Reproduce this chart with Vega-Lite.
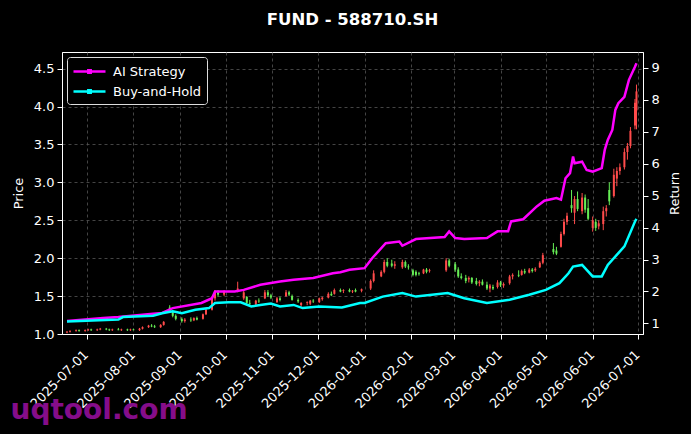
{
  "$schema": "https://vega.github.io/schema/vega-lite/v6.json",
  "width": 581,
  "height": 282,
  "autosize": {"type": "none"},
  "padding": {"left": 62, "top": 52, "right": 48, "bottom": 100},
  "background": "#000000",
  "title": {"text": "FUND - 588710.SH", "color": "#ffffff", "fontSize": 16.5, "fontWeight": "bold", "font": "DejaVu Sans", "offset": 24},
  "datasets": {
    "candles": [
      {"d":"2025-06-18","o":1.02,"h":1.04,"l":1.01,"c":1.03},
      {"d":"2025-06-20","o":1.03,"h":1.05,"l":1.02,"c":1.04},
      {"d":"2025-06-24","o":1.04,"h":1.06,"l":1.03,"c":1.05},
      {"d":"2025-06-26","o":1.05,"h":1.06,"l":1.03,"c":1.04},
      {"d":"2025-06-30","o":1.04,"h":1.06,"l":1.03,"c":1.05},
      {"d":"2025-07-02","o":1.05,"h":1.07,"l":1.04,"c":1.06},
      {"d":"2025-07-04","o":1.06,"h":1.07,"l":1.04,"c":1.05},
      {"d":"2025-07-08","o":1.05,"h":1.07,"l":1.04,"c":1.06},
      {"d":"2025-07-10","o":1.06,"h":1.08,"l":1.05,"c":1.07},
      {"d":"2025-07-14","o":1.07,"h":1.08,"l":1.05,"c":1.06},
      {"d":"2025-07-16","o":1.06,"h":1.07,"l":1.04,"c":1.05},
      {"d":"2025-07-18","o":1.05,"h":1.07,"l":1.04,"c":1.06},
      {"d":"2025-07-22","o":1.06,"h":1.08,"l":1.05,"c":1.05},
      {"d":"2025-07-24","o":1.05,"h":1.07,"l":1.04,"c":1.06},
      {"d":"2025-07-28","o":1.06,"h":1.07,"l":1.04,"c":1.05},
      {"d":"2025-07-30","o":1.05,"h":1.07,"l":1.04,"c":1.06},
      {"d":"2025-08-01","o":1.06,"h":1.07,"l":1.05,"c":1.05},
      {"d":"2025-08-05","o":1.05,"h":1.08,"l":1.04,"c":1.07},
      {"d":"2025-08-07","o":1.07,"h":1.10,"l":1.06,"c":1.09},
      {"d":"2025-08-11","o":1.09,"h":1.12,"l":1.08,"c":1.11},
      {"d":"2025-08-13","o":1.11,"h":1.13,"l":1.09,"c":1.10},
      {"d":"2025-08-15","o":1.10,"h":1.12,"l":1.08,"c":1.09},
      {"d":"2025-08-19","o":1.09,"h":1.13,"l":1.08,"c":1.12},
      {"d":"2025-08-21","o":1.12,"h":1.17,"l":1.11,"c":1.16},
      {"d":"2025-08-25","o":1.35,"h":1.38,"l":1.28,"c":1.30},
      {"d":"2025-08-27","o":1.29,"h":1.30,"l":1.22,"c":1.24},
      {"d":"2025-08-29","o":1.24,"h":1.26,"l":1.18,"c":1.20},
      {"d":"2025-09-02","o":1.20,"h":1.22,"l":1.15,"c":1.17},
      {"d":"2025-09-04","o":1.17,"h":1.21,"l":1.15,"c":1.19},
      {"d":"2025-09-08","o":1.19,"h":1.22,"l":1.16,"c":1.18},
      {"d":"2025-09-10","o":1.18,"h":1.22,"l":1.17,"c":1.21},
      {"d":"2025-09-12","o":1.21,"h":1.23,"l":1.18,"c":1.19},
      {"d":"2025-09-16","o":1.20,"h":1.27,"l":1.19,"c":1.26},
      {"d":"2025-09-18","o":1.26,"h":1.34,"l":1.25,"c":1.32},
      {"d":"2025-09-22","o":1.32,"h":1.50,"l":1.31,"c":1.47},
      {"d":"2025-09-24","o":1.47,"h":1.58,"l":1.44,"c":1.55},
      {"d":"2025-09-26","o":1.55,"h":1.58,"l":1.49,"c":1.52},
      {"d":"2025-09-30","o":1.52,"h":1.58,"l":1.50,"c":1.56},
      {"d":"2025-10-09","o":1.56,"h":1.69,"l":1.55,"c":1.60},
      {"d":"2025-10-13","o":1.47,"h":1.58,"l":1.45,"c":1.55},
      {"d":"2025-10-15","o":1.49,"h":1.50,"l":1.38,"c":1.41},
      {"d":"2025-10-17","o":1.41,"h":1.45,"l":1.38,"c":1.40},
      {"d":"2025-10-21","o":1.39,"h":1.45,"l":1.38,"c":1.44},
      {"d":"2025-10-23","o":1.44,"h":1.47,"l":1.41,"c":1.43},
      {"d":"2025-10-27","o":1.47,"h":1.58,"l":1.46,"c":1.55},
      {"d":"2025-10-29","o":1.55,"h":1.58,"l":1.49,"c":1.51},
      {"d":"2025-10-31","o":1.51,"h":1.53,"l":1.46,"c":1.48},
      {"d":"2025-11-04","o":1.42,"h":1.49,"l":1.41,"c":1.47},
      {"d":"2025-11-06","o":1.47,"h":1.49,"l":1.43,"c":1.45},
      {"d":"2025-11-10","o":1.50,"h":1.58,"l":1.49,"c":1.55},
      {"d":"2025-11-12","o":1.55,"h":1.57,"l":1.50,"c":1.52},
      {"d":"2025-11-14","o":1.50,"h":1.52,"l":1.44,"c":1.45},
      {"d":"2025-11-18","o":1.45,"h":1.47,"l":1.41,"c":1.43},
      {"d":"2025-11-20","o":1.38,"h":1.42,"l":1.36,"c":1.41},
      {"d":"2025-11-24","o":1.41,"h":1.43,"l":1.38,"c":1.42},
      {"d":"2025-11-26","o":1.40,"h":1.45,"l":1.38,"c":1.44},
      {"d":"2025-11-28","o":1.44,"h":1.46,"l":1.41,"c":1.43},
      {"d":"2025-12-02","o":1.42,"h":1.48,"l":1.41,"c":1.47},
      {"d":"2025-12-04","o":1.46,"h":1.49,"l":1.44,"c":1.48},
      {"d":"2025-12-08","o":1.48,"h":1.55,"l":1.47,"c":1.53},
      {"d":"2025-12-10","o":1.53,"h":1.56,"l":1.50,"c":1.51},
      {"d":"2025-12-12","o":1.53,"h":1.60,"l":1.52,"c":1.58},
      {"d":"2025-12-16","o":1.58,"h":1.60,"l":1.55,"c":1.56},
      {"d":"2025-12-18","o":1.57,"h":1.59,"l":1.54,"c":1.58},
      {"d":"2025-12-22","o":1.58,"h":1.60,"l":1.55,"c":1.56},
      {"d":"2025-12-24","o":1.56,"h":1.58,"l":1.54,"c":1.57},
      {"d":"2025-12-26","o":1.58,"h":1.60,"l":1.55,"c":1.56},
      {"d":"2025-12-30","o":1.57,"h":1.60,"l":1.55,"c":1.59},
      {"d":"2026-01-05","o":1.60,"h":1.72,"l":1.58,"c":1.70},
      {"d":"2026-01-07","o":1.70,"h":1.84,"l":1.68,"c":1.80},
      {"d":"2026-01-12","o":1.76,"h":1.84,"l":1.75,"c":1.82},
      {"d":"2026-01-14","o":1.82,"h":1.98,"l":1.80,"c":1.95},
      {"d":"2026-01-16","o":1.95,"h":2.00,"l":1.88,"c":1.90},
      {"d":"2026-01-19","o":1.93,"h":1.98,"l":1.88,"c":1.90},
      {"d":"2026-01-21","o":1.90,"h":1.96,"l":1.86,"c":1.92},
      {"d":"2026-01-26","o":1.88,"h":1.98,"l":1.86,"c":1.95},
      {"d":"2026-01-28","o":1.95,"h":1.97,"l":1.87,"c":1.89},
      {"d":"2026-01-30","o":1.89,"h":1.92,"l":1.85,"c":1.88},
      {"d":"2026-02-02","o":1.84,"h":1.86,"l":1.76,"c":1.78},
      {"d":"2026-02-04","o":1.82,"h":1.84,"l":1.76,"c":1.78},
      {"d":"2026-02-06","o":1.80,"h":1.82,"l":1.77,"c":1.79},
      {"d":"2026-02-09","o":1.80,"h":1.86,"l":1.79,"c":1.85},
      {"d":"2026-02-11","o":1.85,"h":1.87,"l":1.80,"c":1.82},
      {"d":"2026-02-13","o":1.83,"h":1.86,"l":1.81,"c":1.84},
      {"d":"2026-02-24","o":1.84,"h":2.00,"l":1.82,"c":1.97},
      {"d":"2026-02-26","o":1.97,"h":1.99,"l":1.88,"c":1.90},
      {"d":"2026-03-02","o":1.92,"h":1.95,"l":1.82,"c":1.85},
      {"d":"2026-03-04","o":1.85,"h":1.88,"l":1.74,"c":1.76},
      {"d":"2026-03-06","o":1.76,"h":1.80,"l":1.72,"c":1.74},
      {"d":"2026-03-09","o":1.74,"h":1.78,"l":1.67,"c":1.70},
      {"d":"2026-03-11","o":1.72,"h":1.76,"l":1.68,"c":1.74},
      {"d":"2026-03-13","o":1.74,"h":1.75,"l":1.66,"c":1.68},
      {"d":"2026-03-16","o":1.70,"h":1.74,"l":1.64,"c":1.66},
      {"d":"2026-03-18","o":1.67,"h":1.71,"l":1.63,"c":1.69},
      {"d":"2026-03-20","o":1.69,"h":1.72,"l":1.64,"c":1.65},
      {"d":"2026-03-23","o":1.65,"h":1.69,"l":1.58,"c":1.60},
      {"d":"2026-03-25","o":1.60,"h":1.66,"l":1.55,"c":1.64},
      {"d":"2026-03-27","o":1.62,"h":1.65,"l":1.58,"c":1.60},
      {"d":"2026-03-30","o":1.62,"h":1.71,"l":1.60,"c":1.68},
      {"d":"2026-04-01","o":1.68,"h":1.70,"l":1.62,"c":1.64},
      {"d":"2026-04-03","o":1.64,"h":1.68,"l":1.61,"c":1.66},
      {"d":"2026-04-07","o":1.67,"h":1.78,"l":1.65,"c":1.76},
      {"d":"2026-04-09","o":1.76,"h":1.80,"l":1.72,"c":1.78},
      {"d":"2026-04-13","o":1.78,"h":1.84,"l":1.75,"c":1.77},
      {"d":"2026-04-15","o":1.78,"h":1.85,"l":1.77,"c":1.83},
      {"d":"2026-04-17","o":1.83,"h":1.86,"l":1.79,"c":1.81},
      {"d":"2026-04-20","o":1.81,"h":1.87,"l":1.80,"c":1.85},
      {"d":"2026-04-22","o":1.85,"h":1.87,"l":1.81,"c":1.83},
      {"d":"2026-04-24","o":1.84,"h":1.88,"l":1.82,"c":1.86},
      {"d":"2026-04-27","o":1.88,"h":1.96,"l":1.87,"c":1.94},
      {"d":"2026-04-29","o":1.94,"h":2.07,"l":1.92,"c":2.04},
      {"d":"2026-05-06","o":2.12,"h":2.20,"l":2.05,"c":2.08},
      {"d":"2026-05-08","o":2.10,"h":2.15,"l":2.04,"c":2.06},
      {"d":"2026-05-11","o":2.15,"h":2.35,"l":2.14,"c":2.32},
      {"d":"2026-05-13","o":2.32,"h":2.52,"l":2.30,"c":2.48},
      {"d":"2026-05-15","o":2.48,"h":2.60,"l":2.44,"c":2.56},
      {"d":"2026-05-18","o":2.70,"h":2.90,"l":2.60,"c":2.66},
      {"d":"2026-05-20","o":2.60,"h":2.82,"l":2.45,"c":2.78},
      {"d":"2026-05-22","o":2.78,"h":2.88,"l":2.62,"c":2.65},
      {"d":"2026-05-25","o":2.62,"h":2.86,"l":2.58,"c":2.80},
      {"d":"2026-05-27","o":2.80,"h":2.84,"l":2.60,"c":2.64},
      {"d":"2026-05-29","o":2.66,"h":2.78,"l":2.50,"c":2.52},
      {"d":"2026-06-01","o":2.40,"h":2.55,"l":2.35,"c":2.50},
      {"d":"2026-06-03","o":2.48,"h":2.52,"l":2.36,"c":2.40},
      {"d":"2026-06-05","o":2.42,"h":2.50,"l":2.38,"c":2.46},
      {"d":"2026-06-08","o":2.45,"h":2.68,"l":2.37,"c":2.62},
      {"d":"2026-06-10","o":2.62,"h":2.70,"l":2.55,"c":2.66},
      {"d":"2026-06-12","o":2.90,"h":3.00,"l":2.70,"c":2.75},
      {"d":"2026-06-15","o":2.82,"h":3.18,"l":2.80,"c":3.10},
      {"d":"2026-06-17","o":3.05,"h":3.20,"l":2.95,"c":3.15},
      {"d":"2026-06-19","o":3.15,"h":3.25,"l":3.10,"c":3.20},
      {"d":"2026-06-22","o":3.20,"h":3.45,"l":3.17,"c":3.40},
      {"d":"2026-06-24","o":3.40,"h":3.52,"l":3.30,"c":3.48},
      {"d":"2026-06-26","o":3.48,"h":3.73,"l":3.45,"c":3.68},
      {"d":"2026-06-29","o":3.75,"h":4.10,"l":3.70,"c":4.05},
      {"d":"2026-06-30","o":3.95,"h":4.29,"l":3.70,"c":4.20}
    ],
    "lines": [
      {"d":"2025-06-18","s":"AI Strategy","v":1.08},
      {"d":"2025-07-12","s":"AI Strategy","v":1.17},
      {"d":"2025-07-22","s":"AI Strategy","v":1.2},
      {"d":"2025-08-14","s":"AI Strategy","v":1.30},
      {"d":"2025-08-20","s":"AI Strategy","v":1.33},
      {"d":"2025-08-27","s":"AI Strategy","v":1.48},
      {"d":"2025-09-15","s":"AI Strategy","v":1.64},
      {"d":"2025-09-22","s":"AI Strategy","v":1.79},
      {"d":"2025-09-24","s":"AI Strategy","v":2.0},
      {"d":"2025-10-07","s":"AI Strategy","v":2.0},
      {"d":"2025-10-13","s":"AI Strategy","v":2.05},
      {"d":"2025-10-24","s":"AI Strategy","v":2.21},
      {"d":"2025-11-06","s":"AI Strategy","v":2.31},
      {"d":"2025-11-15","s":"AI Strategy","v":2.37},
      {"d":"2025-11-28","s":"AI Strategy","v":2.42},
      {"d":"2025-12-11","s":"AI Strategy","v":2.57},
      {"d":"2025-12-16","s":"AI Strategy","v":2.60},
      {"d":"2025-12-22","s":"AI Strategy","v":2.68},
      {"d":"2026-01-01","s":"AI Strategy","v":2.73},
      {"d":"2026-01-06","s":"AI Strategy","v":3.04},
      {"d":"2026-01-15","s":"AI Strategy","v":3.51},
      {"d":"2026-01-24","s":"AI Strategy","v":3.56},
      {"d":"2026-01-26","s":"AI Strategy","v":3.43},
      {"d":"2026-02-04","s":"AI Strategy","v":3.64},
      {"d":"2026-02-23","s":"AI Strategy","v":3.70},
      {"d":"2026-02-26","s":"AI Strategy","v":3.88},
      {"d":"2026-03-02","s":"AI Strategy","v":3.67},
      {"d":"2026-03-08","s":"AI Strategy","v":3.64},
      {"d":"2026-03-23","s":"AI Strategy","v":3.67},
      {"d":"2026-03-30","s":"AI Strategy","v":3.88},
      {"d":"2026-04-06","s":"AI Strategy","v":3.88},
      {"d":"2026-04-08","s":"AI Strategy","v":4.19},
      {"d":"2026-04-16","s":"AI Strategy","v":4.26},
      {"d":"2026-04-25","s":"AI Strategy","v":4.66},
      {"d":"2026-04-30","s":"AI Strategy","v":4.84},
      {"d":"2026-05-08","s":"AI Strategy","v":4.92},
      {"d":"2026-05-11","s":"AI Strategy","v":4.87},
      {"d":"2026-05-14","s":"AI Strategy","v":5.54},
      {"d":"2026-05-17","s":"AI Strategy","v":5.70},
      {"d":"2026-05-19","s":"AI Strategy","v":6.22},
      {"d":"2026-05-20","s":"AI Strategy","v":6.01},
      {"d":"2026-05-25","s":"AI Strategy","v":6.06},
      {"d":"2026-05-28","s":"AI Strategy","v":5.80},
      {"d":"2026-06-01","s":"AI Strategy","v":5.75},
      {"d":"2026-06-07","s":"AI Strategy","v":5.86},
      {"d":"2026-06-09","s":"AI Strategy","v":6.43},
      {"d":"2026-06-11","s":"AI Strategy","v":6.74},
      {"d":"2026-06-14","s":"AI Strategy","v":7.05},
      {"d":"2026-06-16","s":"AI Strategy","v":7.68},
      {"d":"2026-06-18","s":"AI Strategy","v":7.89},
      {"d":"2026-06-22","s":"AI Strategy","v":8.09},
      {"d":"2026-06-25","s":"AI Strategy","v":8.62},
      {"d":"2026-06-29","s":"AI Strategy","v":9.03},
      {"d":"2026-06-30","s":"AI Strategy","v":9.14},
      {"d":"2025-06-18","s":"Buy-and-Hold","v":1.06},
      {"d":"2025-07-22","s":"Buy-and-Hold","v":1.12},
      {"d":"2025-07-25","s":"Buy-and-Hold","v":1.20},
      {"d":"2025-08-14","s":"Buy-and-Hold","v":1.24},
      {"d":"2025-08-20","s":"Buy-and-Hold","v":1.32},
      {"d":"2025-08-27","s":"Buy-and-Hold","v":1.38},
      {"d":"2025-09-02","s":"Buy-and-Hold","v":1.32},
      {"d":"2025-09-11","s":"Buy-and-Hold","v":1.43},
      {"d":"2025-09-20","s":"Buy-and-Hold","v":1.48},
      {"d":"2025-09-24","s":"Buy-and-Hold","v":1.64},
      {"d":"2025-10-03","s":"Buy-and-Hold","v":1.66},
      {"d":"2025-10-11","s":"Buy-and-Hold","v":1.66},
      {"d":"2025-10-18","s":"Buy-and-Hold","v":1.53},
      {"d":"2025-10-24","s":"Buy-and-Hold","v":1.58},
      {"d":"2025-10-31","s":"Buy-and-Hold","v":1.62},
      {"d":"2025-11-06","s":"Buy-and-Hold","v":1.53},
      {"d":"2025-11-15","s":"Buy-and-Hold","v":1.58},
      {"d":"2025-11-21","s":"Buy-and-Hold","v":1.48},
      {"d":"2025-12-02","s":"Buy-and-Hold","v":1.53},
      {"d":"2025-12-17","s":"Buy-and-Hold","v":1.50},
      {"d":"2025-12-29","s":"Buy-and-Hold","v":1.64},
      {"d":"2026-01-01","s":"Buy-and-Hold","v":1.64},
      {"d":"2026-01-13","s":"Buy-and-Hold","v":1.84},
      {"d":"2026-01-26","s":"Buy-and-Hold","v":1.95},
      {"d":"2026-02-04","s":"Buy-and-Hold","v":1.84},
      {"d":"2026-02-25","s":"Buy-and-Hold","v":1.95},
      {"d":"2026-03-08","s":"Buy-and-Hold","v":1.79},
      {"d":"2026-03-23","s":"Buy-and-Hold","v":1.64},
      {"d":"2026-04-07","s":"Buy-and-Hold","v":1.74},
      {"d":"2026-04-20","s":"Buy-and-Hold","v":1.90},
      {"d":"2026-05-01","s":"Buy-and-Hold","v":2.05},
      {"d":"2026-05-10","s":"Buy-and-Hold","v":2.26},
      {"d":"2026-05-16","s":"Buy-and-Hold","v":2.57},
      {"d":"2026-05-19","s":"Buy-and-Hold","v":2.78},
      {"d":"2026-05-25","s":"Buy-and-Hold","v":2.83},
      {"d":"2026-06-01","s":"Buy-and-Hold","v":2.47},
      {"d":"2026-06-07","s":"Buy-and-Hold","v":2.47},
      {"d":"2026-06-11","s":"Buy-and-Hold","v":2.83},
      {"d":"2026-06-18","s":"Buy-and-Hold","v":3.20},
      {"d":"2026-06-22","s":"Buy-and-Hold","v":3.41},
      {"d":"2026-06-29","s":"Buy-and-Hold","v":4.19},
      {"d":"2026-06-30","s":"Buy-and-Hold","v":4.27}
    ]
  },
  "layer": [
    {
      "data": {"name": "candles"},
      "encoding": {
        "x": {
          "field": "d", "type": "temporal",
          "scale": {"type": "utc", "domain": [{"year": 2025, "month": 6, "date": 18, "utc": true}, {"year": 2026, "month": 7, "date": 1, "utc": true}]},
          "axis": {
            "format": "%Y-%m-%d", "tickCount": {"interval": "month", "step": 1},
            "labelAngle": -45, "labelAlign": "right", "labelBaseline": "top", "labelOverlap": false, "labelBound": false, "labelFlush": false,
            "labelOffset": -5, "labelPadding": 9,
            "grid": true,
            "title": "uqtool.com", "titleColor": "#850d8a", "titleFontSize": 28, "titleFontWeight": "bold",
            "titleAnchor": "start", "titleAlign": "left", "titleBaseline": "alphabetic", "titleX": -52, "titleY": 84
          }
        },
        "color": {"condition": {"test": "datum.c >= datum.o", "value": "#ff4b4b"}, "value": "#66ee55"}
      },
      "layer": [
        {
          "mark": {"type": "rule", "strokeWidth": 1},
          "encoding": {
            "y": {
              "field": "l", "type": "quantitative",
              "scale": {"domain": [1.0, 4.72], "nice": false, "zero": false},
              "axis": {"title": "Price", "values": [1, 1.5, 2, 2.5, 3, 3.5, 4, 4.5], "format": ".1f", "grid": true, "titlePadding": 8}
            },
            "y2": {"field": "h"}
          }
        },
        {
          "mark": {"type": "bar", "width": 2},
          "encoding": {
            "y": {"field": "o", "type": "quantitative"},
            "y2": {"field": "c"}
          }
        }
      ]
    },
    {
      "data": {"name": "lines"},
      "mark": {"type": "line", "strokeWidth": 2.5},
      "encoding": {
        "x": {
          "field": "d", "type": "temporal",
          "scale": {"type": "utc", "domain": [{"year": 2025, "month": 6, "date": 18, "utc": true}, {"year": 2026, "month": 7, "date": 1, "utc": true}]}
        },
        "y": {
          "field": "v", "type": "quantitative",
          "scale": {"domain": [0.67, 9.49], "nice": false, "zero": false},
          "axis": {"orient": "right", "title": "Return", "values": [1, 2, 3, 4, 5, 6, 7, 8, 9], "format": "d", "grid": false, "titleAngle": -90, "titlePadding": 22}
        },
        "color": {
          "field": "s", "type": "nominal",
          "scale": {"domain": ["AI Strategy", "Buy-and-Hold"], "range": ["#ff00ff", "#00ffff"]},
          "legend": {
            "orient": "top-left", "offset": 5, "title": null,
            "fillColor": "#000000", "strokeColor": "#dddddd", "cornerRadius": 3, "padding": 5,
            "labelColor": "#ffffff", "labelFontSize": 13, "labelFont": "DejaVu Sans", "labelOffset": 22,
            "symbolType": "M-1,0L3,0M0.85,-0.15L1.15,-0.15L1.15,0.15L0.85,0.15Z",
            "symbolSize": 256, "symbolStrokeWidth": 2.5, "rowPadding": 3
          }
        }
      }
    }
  ],
  "resolve": {"scale": {"y": "independent"}},
  "config": {
    "font": "DejaVu Sans",
    "view": {"stroke": "#ffffff", "strokeWidth": 1},
    "axis": {
      "domainColor": "#ffffff", "tickColor": "#ffffff", "labelColor": "#ffffff", "titleColor": "#ffffff",
      "labelFont": "DejaVu Sans", "titleFont": "DejaVu Sans", "labelFontSize": 13, "titleFontSize": 13, "titleFontWeight": "normal",
      "tickSize": 5, "labelPadding": 3, "gridColor": "#555555", "gridDash": [3, 3], "gridWidth": 0.8, "domainWidth": 1
    }
  }
}
